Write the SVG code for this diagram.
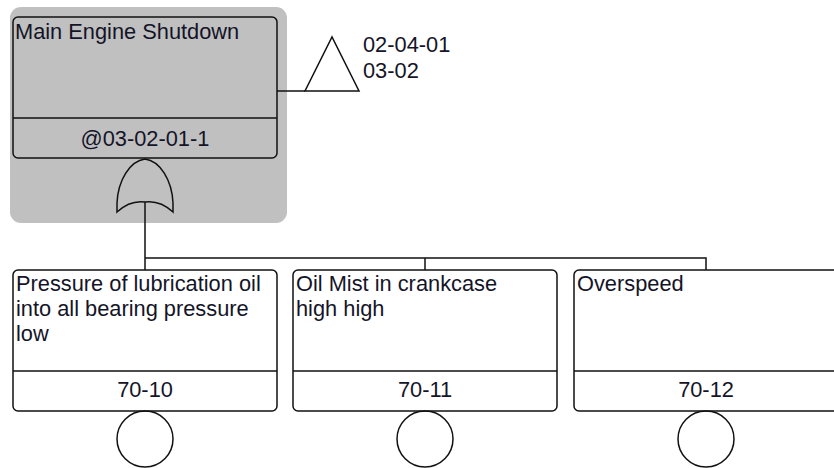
<svg xmlns="http://www.w3.org/2000/svg" width="834" height="468" viewBox="0 0 834 468">
<style>
.t{font-family:"Liberation Sans",Arial,sans-serif;font-size:21.8px;fill:#141428}
.c{text-anchor:middle}
.box{stroke:#111;stroke-width:1.5}
.ln{fill:none;stroke:#111;stroke-width:1.5}
</style>
<rect x="0" y="0" width="834" height="468" fill="#fff"/>
<g id="top-event">
<rect x="10" y="7" width="277" height="216" rx="11" fill="#c0c0c0"/>
<rect class="box" x="13" y="17" width="264" height="141" rx="5" fill="none"/>
<line class="ln" x1="13" y1="118" x2="277" y2="118"/>
<text class="t" x="15" y="39">Main Engine Shutdown</text>
<text class="t c" x="145" y="146">@03-02-01-1</text>
<path class="ln" fill="#c0c0c0" d="M117,212 L117,203 C118,180 130,161 145,159 C160,161 172,180 173,203 L173,212 Q160,200 145,202 Q130,200 117,212 Z"/>
</g>
<g id="transfer">
<polygon class="ln" points="305,91 359,91 332,37"/>
<text class="t" x="363" y="52">02-04-01</text>
<text class="t" x="363" y="78">03-02</text>
</g>
<g id="event-70-10">
<rect class="box" x="13" y="270" width="264" height="141" rx="5" fill="#fff"/>
<line class="ln" x1="13" y1="371" x2="277" y2="371"/>
<text class="t" x="16" y="291">Pressure of lubrication oil</text>
<text class="t" x="16" y="316">into all bearing pressure</text>
<text class="t" x="16" y="341">low</text>
<text class="t c" x="145" y="397">70-10</text>
<circle class="ln" cx="145" cy="439" r="28"/>
</g>
<g id="event-70-11">
<rect class="box" x="293" y="270" width="264" height="141" rx="5" fill="#fff"/>
<line class="ln" x1="293" y1="371" x2="557" y2="371"/>
<text class="t" x="296" y="291">Oil Mist in crankcase</text>
<text class="t" x="296" y="316">high high</text>
<text class="t c" x="425" y="397">70-11</text>
<circle class="ln" cx="425" cy="439" r="28"/>
</g>
<g id="event-70-12">
<rect class="box" x="574" y="270" width="264" height="141" rx="5" fill="#fff"/>
<line class="ln" x1="574" y1="371" x2="838" y2="371"/>
<text class="t" x="577" y="291">Overspeed</text>
<text class="t c" x="706" y="397">70-12</text>
<circle class="ln" cx="706" cy="439" r="28"/>
</g>
<g id="connectors">
<path class="ln" d="M145,202 V270 M145,258 H706 V270 M425,258 V270 M277,91 H305"/>
</g>
</svg>
